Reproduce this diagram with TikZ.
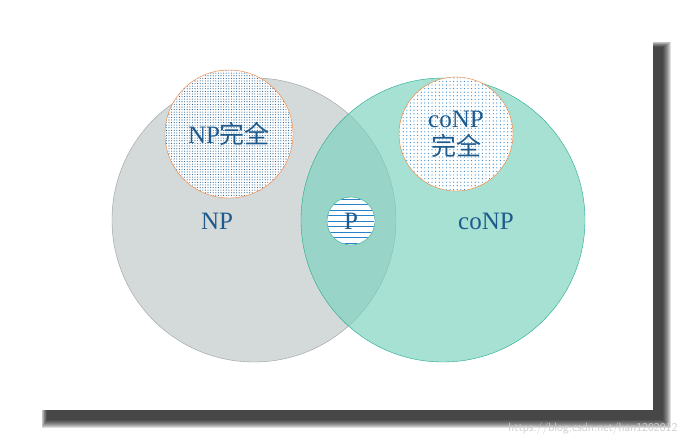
\documentclass[tikz,border=0pt]{standalone}
\usepackage{fontspec}
\setmainfont{Liberation Serif}
\newfontfamily\cjk{Noto Sans CJK SC}
\usetikzlibrary{patterns.meta}
\definecolor{txt}{RGB}{30,90,140}
\definecolor{npfill}{RGB}{212,218,218}
\definecolor{npdraw}{RGB}{150,160,160}
\definecolor{cofill}{RGB}{120,210,190}
\definecolor{codraw}{RGB}{30,170,140}
\definecolor{orng}{RGB}{240,120,40}
\definecolor{dotc}{RGB}{40,130,200}
\tikzset{lbl/.style={text=txt,font=\fontsize{25}{28}\selectfont,align=center}}
\begin{document}
\begin{tikzpicture}[x=1pt,y=-1pt]
\useasboundingbox (0,0) rectangle (689,445);
\fill[white] (0,0) rectangle (689,445);
\foreach \i in {16,14,...,0}
  \fill[black,opacity=0.13] (47-\i/3,47-\i/3) rectangle (663+\i/2,420+\i/2);
\fill[white] (35,35) rectangle (653,410);
\node[circle,draw=npdraw,fill=npfill,minimum size=284pt,inner sep=0] (np) at (254,220) {};
\node[circle,draw=codraw,fill=cofill,fill opacity=0.65,minimum size=284pt,inner sep=0] (conp) at (443,220) {};
\node[circle,draw=orng,fill=white,minimum size=128pt,inner sep=0] (npc) at (229,134) {};
\fill[pattern={Dots[distance=2.6pt,radius=0.55pt]},pattern color=txt] (npc.center) circle (63.5pt);
\node[circle,draw=orng,fill=white,minimum size=114pt,inner sep=0] (conpc) at (456,134) {};
\fill[pattern={Dots[distance=3.6pt,radius=0.6pt]},pattern color=dotc] (conpc.center) circle (56.5pt);
\node[circle,draw=codraw,fill=white,minimum size=48pt,inner sep=0] (p) at (351,221) {};
\begin{scope}
\clip (p.center) circle (23.5pt);
\foreach \k in {-4,...,4}
  \draw[dotc,line width=0.8pt] (327,221+\k*5.5) -- (375,221+\k*5.5);
\end{scope}
\node[lbl] at (npc) {NP{\cjk 完全}};
\node[lbl] at (conpc) {coNP\\{\cjk 完全}};
\node[lbl] at (p) {P};
\node[lbl] at (217,221) {NP};
\node[lbl] at (486,221) {coNP};
\node[text=white!80!black,font=\fontsize{12}{13}\selectfont\sffamily,anchor=south east] at (681,438) {https://blog.csdn.net/han1202012};
\end{tikzpicture}
\end{document}
